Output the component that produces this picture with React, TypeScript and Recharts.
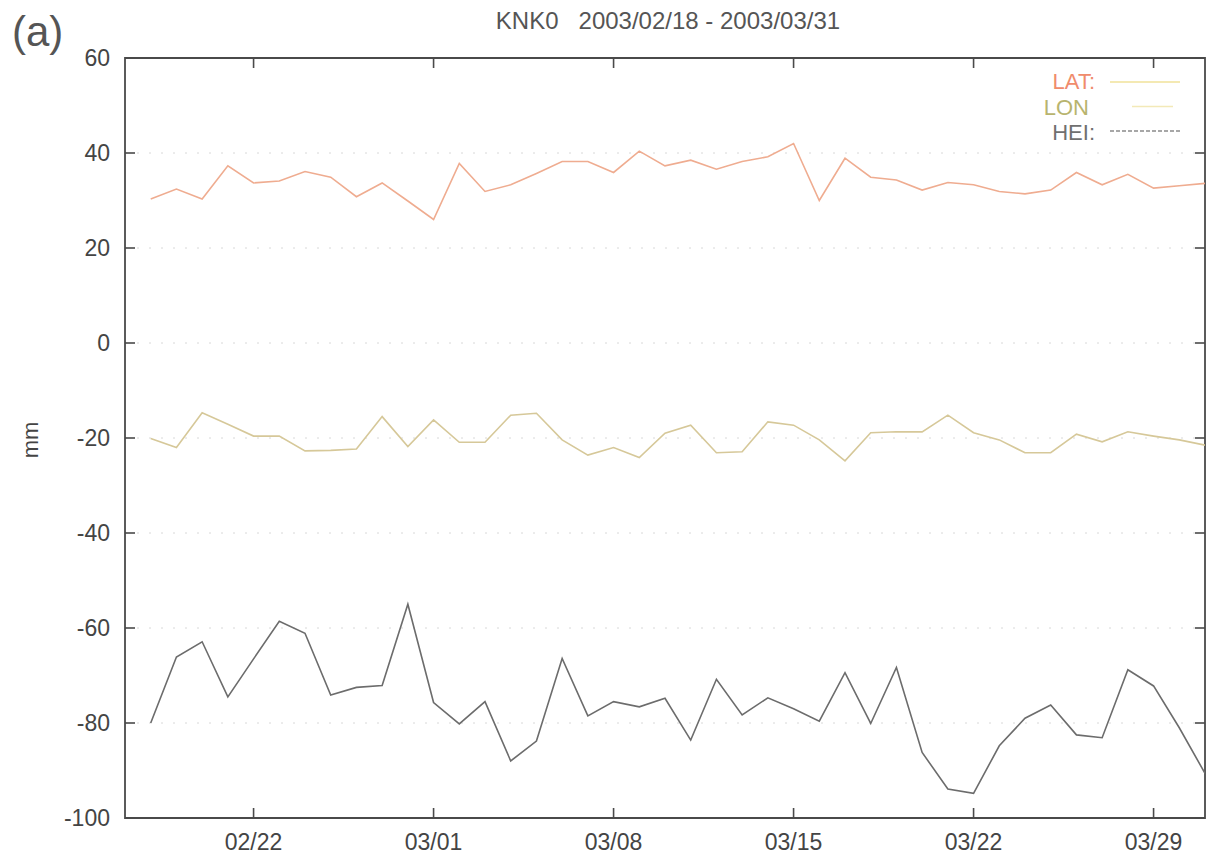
import React from 'react';
import { LineChart, Line, XAxis, YAxis, CartesianGrid, ReferenceArea, Legend } from 'recharts';

const dates = [
  '02/18', '02/19', '02/20', '02/21', '02/22', '02/23', '02/24', '02/25', '02/26', '02/27', '02/28',
  '03/01', '03/02', '03/03', '03/04', '03/05', '03/06', '03/07', '03/08', '03/09', '03/10',
  '03/11', '03/12', '03/13', '03/14', '03/15', '03/16', '03/17', '03/18', '03/19', '03/20',
  '03/21', '03/22', '03/23', '03/24', '03/25', '03/26', '03/27', '03/28', '03/29', '03/30', '03/31',
];

const lat = [
  30.3, 32.4, 30.3, 37.3, 33.7, 34.1, 36.1, 34.9, 30.8, 33.7, 29.9,
  26.0, 37.8, 31.9, 33.3, 35.7, 38.2, 38.2, 35.9, 40.4, 37.3,
  38.5, 36.6, 38.2, 39.2, 42.0, 30.0, 38.9, 34.9, 34.3, 32.2,
  33.8, 33.3, 31.9, 31.4, 32.2, 35.9, 33.3, 35.5, 32.6, 33.1, 33.6,
];

const lon = [
  -20.1, -22.0, -14.7, -17.1, -19.6, -19.6, -22.7, -22.6, -22.3, -15.5, -21.8,
  -16.2, -20.9, -20.9, -15.2, -14.8, -20.4, -23.6, -22.0, -24.1, -19.0,
  -17.3, -23.1, -22.9, -16.6, -17.3, -20.4, -24.8, -18.9, -18.7, -18.7,
  -15.2, -18.9, -20.4, -23.1, -23.1, -19.2, -20.8, -18.7, -19.6, -20.4, -21.5,
];

const hei = [
  -80.0, -66.1, -62.9, -74.5, -66.5, -58.6, -61.1, -74.1, -72.5, -72.1, -55.0,
  -75.7, -80.2, -75.5, -88.0, -83.8, -66.4, -78.5, -75.5, -76.6, -74.8,
  -83.6, -70.8, -78.3, -74.7, -77.0, -79.6, -69.4, -80.1, -68.3, -86.2,
  -93.9, -94.8, -84.8, -79.0, -76.2, -82.5, -83.1, -68.8, -72.2, -81.0, -90.6,
];

const xTickIndices = [4, 11, 18, 25, 32, 39];
const yTicks = [-100, -80, -60, -40, -20, 0, 20, 40, 60];

const seriesNames = ['LAT:', 'LON', 'HEI:'];
const seriesColors = ['#efac90', '#d6c899', '#6c6c6c'];
const legendTextColors = ['#f08c6c', '#b8b46e', '#707070'];
const legendLineColors = ['#f1e29a', '#f3e9b8', '#8a8a8a'];

const data = dates.map((d, i) => ({ idx: i, date: d, lat: lat[i], lon: lon[i], hei: hei[i] }));

const W = 1207;
const H = 859;
const MARGIN = { top: 58, right: 2, bottom: 0, left: 0 };
const Y_AXIS_W = 125;
const X_AXIS_H = 41;
const PLOT_TOP = MARGIN.top;
const PLOT_RIGHT = W - MARGIN.right;
const X_TICK_MARGIN = 16;
const Y_TICK_MARGIN = 15;
const TICK_LEN = 10;
const FONT = '"Liberation Sans", Arial, Helvetica, sans-serif';
const AXIS_COLOR = '#4a4a4a';
const LABEL_COLOR = '#444';

const XTick = (props: any) => {
  const { x, y, payload } = props;
  const bottom = y - X_TICK_MARGIN;
  return (
    <g>
      <line x1={x} x2={x} y1={bottom} y2={bottom - TICK_LEN} stroke={AXIS_COLOR} strokeWidth={1.6} />
      <line x1={x} x2={x} y1={PLOT_TOP} y2={PLOT_TOP + TICK_LEN} stroke={AXIS_COLOR} strokeWidth={1.6} />
      <text x={x} y={y} dy="0.71em" textAnchor="middle" fill={LABEL_COLOR} fontSize={23} fontFamily={FONT}>
        {dates[payload.value]}
      </text>
    </g>
  );
};

const YTick = (props: any) => {
  const { x, y, payload } = props;
  const left = x + Y_TICK_MARGIN;
  return (
    <g>
      <line x1={left} x2={left + TICK_LEN} y1={y} y2={y} stroke={AXIS_COLOR} strokeWidth={1.6} />
      <line x1={PLOT_RIGHT - TICK_LEN} x2={PLOT_RIGHT} y1={y} y2={y} stroke={AXIS_COLOR} strokeWidth={1.6} />
      <text x={x} y={y} dy="0.36em" textAnchor="end" fill={LABEL_COLOR} fontSize={23} fontFamily={FONT}>
        {payload.value}
      </text>
    </g>
  );
};

const YLabel = (props: any) => {
  const vb = props.viewBox || { x: 0, y: 0, width: 0, height: 0 };
  const cx = vb.x + 30;
  const cy = vb.y + vb.height / 2 + 2;
  return (
    <text
      x={cx}
      y={cy}
      textAnchor="middle"
      dy="0.36em"
      transform={`rotate(-90 ${cx} ${cy})`}
      fill={LABEL_COLOR}
      fontSize={22}
      fontFamily={FONT}
    >
      mm
    </text>
  );
};

const LegendContent = () => (
  <svg width={185} height={85} style={{ display: 'block' }}>
    {seriesNames.map((name, i) => (
      <g key={name}>
        <text
          x={i === 1 ? 69 : 75}
          y={25 + i * 25.5}
          textAnchor="end"
          fill={legendTextColors[i]}
          fontSize={22}
          fontFamily={FONT}
        >
          {name}
        </text>
        <line
          x1={i === 1 ? 112 : 90}
          x2={i === 1 ? 153 : 160}
          y1={18 + i * 24.5}
          y2={18 + i * 24.5}
          stroke={legendLineColors[i]}
          strokeWidth={1.6}
          strokeDasharray={i === 2 ? '4 2' : undefined}
        />
      </g>
    ))}
  </svg>
);

export default function App() {
  return (
    <div style={{ position: 'absolute', left: 0, top: 0, width: W, height: H, background: '#fff' }}>
      <LineChart width={W} height={H} data={data} margin={MARGIN}>
        <CartesianGrid horizontal vertical={false} stroke="#d8d8d8" strokeDasharray="2 10" />
        <ReferenceArea
          x1={-1}
          x2={41}
          y1={-100}
          y2={60}
          fill="none"
          stroke={AXIS_COLOR}
          strokeWidth={1.8}
          ifOverflow="visible"
        />
        <XAxis
          dataKey="idx"
          type="number"
          domain={[-1, 41]}
          ticks={xTickIndices}
          allowDataOverflow
          height={X_AXIS_H}
          axisLine={false}
          tickLine={false}
          tickSize={0}
          tickMargin={X_TICK_MARGIN}
          tick={<XTick />}
          interval={0}
        />
        <YAxis
          type="number"
          domain={[-100, 60]}
          ticks={yTicks}
          allowDataOverflow
          width={Y_AXIS_W}
          axisLine={false}
          tickLine={false}
          tickSize={0}
          tickMargin={Y_TICK_MARGIN}
          tick={<YTick />}
          interval={0}
          label={<YLabel />}
        />
        <Legend
          layout="vertical"
          align="center"
          verticalAlign="middle"
          content={<LegendContent />}
          wrapperStyle={{ left: 1020, top: 64, width: 185, height: 85 }}
        />
        <Line type="linear" dataKey="lat" name="LAT" stroke={seriesColors[0]} strokeWidth={1.6} dot={false} isAnimationActive={false} />
        <Line type="linear" dataKey="lon" name="LON" stroke={seriesColors[1]} strokeWidth={1.6} dot={false} isAnimationActive={false} />
        <Line type="linear" dataKey="hei" name="HEI" stroke={seriesColors[2]} strokeWidth={1.6} dot={false} isAnimationActive={false} />
      </LineChart>
      <svg
        width={W}
        height={70}
        style={{ position: 'absolute', left: 0, top: 0, pointerEvents: 'none' }}
      >
        <text x={12} y={46} fill="#555" fontSize={42} fontFamily={FONT}>
          (a)
        </text>
        <text
          x={668}
          y={29}
          textAnchor="middle"
          fill="#555"
          fontSize={24}
          fontFamily={FONT}
          style={{ whiteSpace: 'pre' }}
        >
          {'KNK0   2003/02/18 - 2003/03/31'}
        </text>
      </svg>
    </div>
  );
}
